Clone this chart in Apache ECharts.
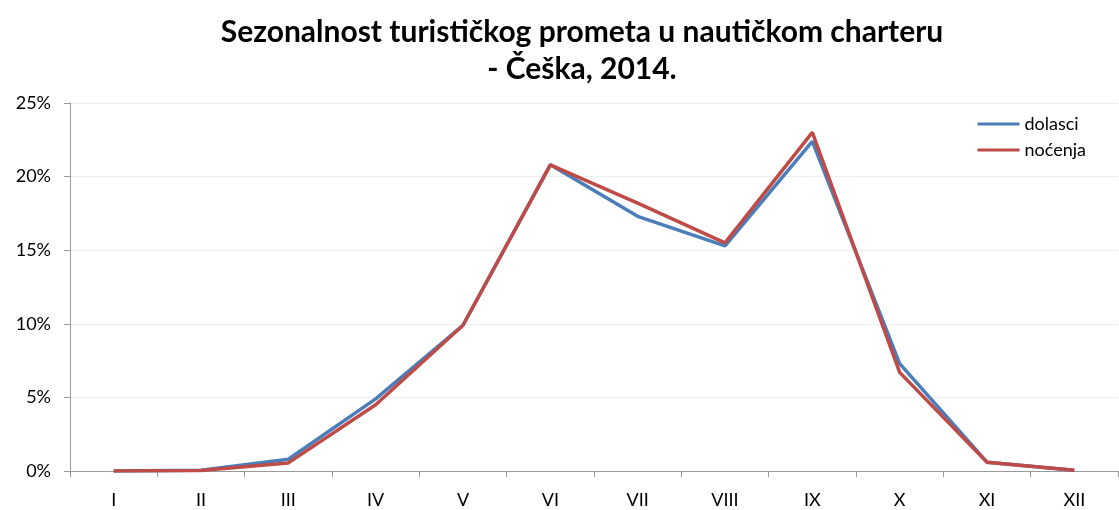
<!DOCTYPE html>
<html>
<head>
<meta charset="utf-8">
<script src="https://cdn.jsdelivr.net/npm/echarts@6/dist/echarts.min.js"></script>
<style>
  html, body { margin: 0; padding: 0; background: #fff; }
  #main { width: 1119px; height: 510px; }
</style>
</head>
<body>
<div id="main"></div>
<script>
// mjeseci
var months = ['I', 'II', 'III', 'IV', 'V', 'VI', 'VII', 'VIII', 'IX', 'X', 'XI', 'XII'];
// udio po mjesecima, %
var dolasci = [0.0, 0.05, 0.8, 4.9, 9.9, 20.8, 17.3, 15.3, 22.4, 7.3, 0.6, 0.05];
var nocenja = [0.0, 0.03, 0.55, 4.5, 9.9, 20.8, 18.2, 15.5, 23.0, 6.7, 0.6, 0.05];

var chart = echarts.init(document.getElementById('main'));
var option = {
    animation: false,
    title: {
        text: 'Sezonalnost turističkog prometa u nautičkom charteru\n- Češka, 2014.',
        left: 577, // naslov je malo desno od sredine
        textAlign: 'center',
        top: 9,
        textStyle: {
            fontFamily: 'Lato',
            fontWeight: 'bold',
            fontSize: 30,
            lineHeight: 37,
            color: '#000'
        }
    },
    legend: {
        orient: 'vertical',
        right: 28,
        top: 110,
        itemWidth: 42,
        itemHeight: 3,
        itemGap: 8,
        icon: 'rect',
        textStyle: { fontFamily: 'Lato', fontSize: 18, color: '#000' },
        data: ['dolasci', 'noćenja']
    },
    grid: { left: 70, right: 1, top: 103, bottom: 39 },
    xAxis: {
        type: 'category',
        data: months,
        boundaryGap: true,
        axisLine: { lineStyle: { color: '#9a9a9a', width: 1 } },
        axisTick: { show: true, length: 6, lineStyle: { color: '#9a9a9a' } },
        axisLabel: { fontFamily: 'Lato', fontSize: 18, color: '#000', margin: 20 }
    },
    yAxis: {
        type: 'value',
        min: 0,
        max: 25,
        interval: 5,
        axisLine: { show: true, lineStyle: { color: '#9a9a9a', width: 1 } },
        axisTick: { show: true, length: 6, lineStyle: { color: '#9a9a9a' } },
        axisLabel: { formatter: '{value}%', fontFamily: 'Lato', fontSize: 18, color: '#000', margin: 19 },
        splitLine: { lineStyle: { color: '#eeeeee' } }
    },
    series: [
        {
            name: 'dolasci',
            type: 'line',
            data: dolasci,
            symbol: 'none',
            color: '#4a7ebb',
            lineStyle: { width: 3.5, color: '#4a7ebb' }
        },
        {
            name: 'noćenja',
            type: 'line',
            data: nocenja,
            symbol: 'none',
            color: '#be4b48',
            lineStyle: { width: 3.5, color: '#be4b48' }
        }
    ]
};
chart.setOption(option);
</script>
</body>
</html>
